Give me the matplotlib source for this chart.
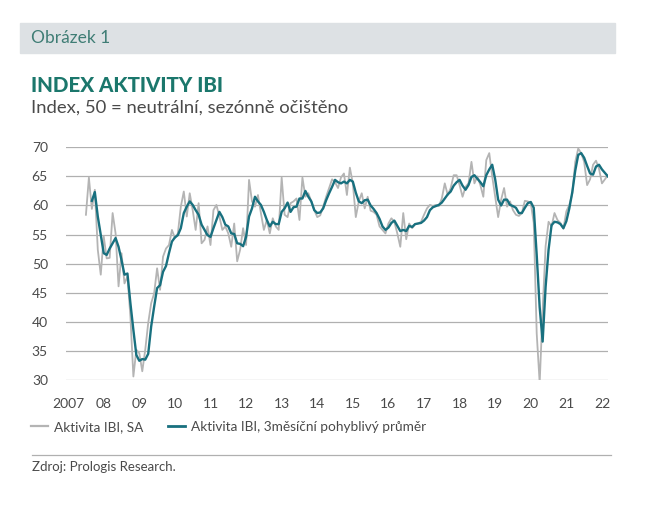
import numpy as np
import pandas as pd
import matplotlib
matplotlib.use('Agg')
import matplotlib.pyplot as plt
from matplotlib.patches import Rectangle
from matplotlib.lines import Line2D

plt.rcParams['font.family'] = ['Lato', 'DejaVu Sans']

# Monthly IBI readings, Jul 2007 - Mar 2022
ibi_sa = [
    58.4, 64.8, 59.4, 62.7, 52.4, 48.1,                                # 2007 H2
    54.7, 50.9, 51.0, 58.7, 55.2, 46.1, 51.8, 46.6, 47.8, 40.9, 30.6, 35.2,  # 2008
    34.6, 31.5, 35.2, 39.8, 43.2, 44.9, 49.2, 45.5, 51.2, 52.6, 53.2, 55.8,  # 2009
    54.4, 55.2, 59.8, 62.4, 58.1, 62.1, 59.2, 55.8, 60.4, 53.5, 54.1, 56.4,  # 2010
    53.2, 59.2, 60.1, 58.1, 55.8, 56.4, 55.2, 52.9, 56.9, 50.4, 52.4, 56.1,  # 2011
    53.2, 64.4, 60.7, 59.8, 61.8, 58.7, 55.8, 57.5, 55.2, 57.8, 56.4, 55.8,  # 2012
    64.8, 58.4, 58.0, 60.4, 60.7, 61.2, 57.5, 64.8, 61.5, 62.1, 60.7, 59.2,  # 2013
    58.0, 58.3, 59.8, 61.5, 63.0, 64.5, 64.0, 63.0, 64.8, 65.5, 61.8, 66.5,  # 2014
    63.8, 58.0, 60.7, 62.1, 59.5, 61.5, 59.1, 58.9, 58.4, 56.4, 55.8, 55.2,  # 2015
    56.9, 57.8, 57.2, 55.2, 52.9, 58.7, 54.2, 56.9, 56.1, 56.8, 56.9, 57.2,  # 2016
    58.4, 59.5, 60.1, 59.9, 60.1, 59.9, 61.2, 63.8, 61.8, 63.0, 65.2, 65.2,  # 2017
    63.5, 61.5, 63.2, 63.8, 67.5, 63.8, 65.0, 63.5, 61.5, 67.8, 69.0, 65.0,  # 2018
    61.5, 58.0, 61.0, 63.0, 59.8, 60.7, 59.2, 58.4, 58.2, 58.7, 60.8, 60.7,  # 2019
    60.4, 57.0, 38.0, 29.5, 42.0, 53.0, 57.2, 56.4, 58.7, 57.5, 57.0, 56.0,  # 2020
    59.0, 60.1, 62.0, 67.5, 69.8, 69.0, 67.5, 63.5, 64.5, 67.0, 67.7, 66.3,  # 2021
    63.8, 64.5, 65.2,                                                    # 2022
]

# 3-month moving average, first value in Sep 2007
ibi_3m = [
    np.nan, np.nan, 60.8, 62.3, 58.1, 55.0,
    51.8, 51.5, 52.6, 53.5, 54.4, 52.9, 50.6, 48.1, 48.3, 43.2, 38.6, 34.3,
    33.3, 33.6, 33.5, 34.5, 39.2, 42.6, 45.8, 46.3, 48.6, 49.6, 51.8, 53.8,
    54.5, 54.9, 56.1, 58.7, 59.8, 60.7, 60.1, 59.2, 58.4, 56.7, 55.8, 54.9,
    54.6, 56.1, 57.5, 58.9, 58.0, 56.7, 56.4, 55.2, 55.1, 53.5, 53.4, 53.0,
    54.6, 58.1, 59.5, 61.5, 60.7, 60.1, 58.9, 57.5, 56.4, 57.2, 56.8, 56.8,
    58.9, 59.5, 60.5, 58.9, 59.7, 59.8, 61.2, 61.2, 62.5, 61.5, 60.7, 59.2,
    58.7, 58.8, 59.5, 60.9, 62.1, 63.2, 64.4, 64.0, 63.8, 64.1, 63.8, 64.4,
    64.1, 62.2, 60.7, 60.4, 60.9, 61.0, 60.0, 59.4, 58.7, 57.7, 56.4, 55.8,
    56.2, 57.0, 57.4, 56.5, 55.6, 55.8, 55.6, 56.5, 56.3, 56.8, 56.9, 57.0,
    57.4, 58.0, 59.2, 59.7, 59.9, 60.1, 60.5, 61.2, 61.9, 62.4, 63.4, 64.0,
    64.4, 63.4, 62.7, 63.5, 64.9, 65.2, 64.6, 64.0, 63.3, 65.2, 66.2, 67.0,
    64.5, 61.0, 60.0, 61.0, 61.0, 60.1, 59.9, 59.6, 58.7, 58.7, 59.6, 60.4,
    60.6, 59.6, 51.5, 42.5, 36.6, 46.0, 52.4, 56.6, 57.2, 57.1, 56.8, 56.1,
    57.3, 59.5, 62.3, 66.0, 68.7, 69.0, 68.2, 66.8, 65.5, 65.3, 66.7, 67.0,
    66.2, 65.6, 65.0,
]

years = list(range(2007, 2023))
year_labels = ['2007'] + ['%02d' % (y % 100) for y in years[1:]]
yticks = [30, 35, 40, 45, 50, 55, 60, 65, 70]

dates = pd.date_range('2007-07-01', periods=len(ibi_sa), freq='MS')
t = dates.year + (dates.month - 1) / 12

gray = '#b4b4b4'
blue = '#18707f'
teal = '#1b776c'
txt = '#4a4a4a'

W, H = 652, 511
fig = plt.figure(figsize=(W / 100, H / 100), dpi=100)

def fx(px):
    return px / W

def fy(py):
    return 1 - py / H

# header band
fig.patches.append(Rectangle((fx(20), fy(53)), fx(595), 30 / H,
                             transform=fig.transFigure, color='#dde1e4', zorder=0))
fig.text(fx(31), fy(38), 'Obrázek 1', fontsize=12.5, color='#3f7d75',
         va='center', ha='left')
fig.text(fx(31), fy(85), 'INDEX AKTIVITY IBI', fontsize=14.8, color=teal,
         fontweight='black', va='center', ha='left')
fig.text(fx(31), fy(108), 'Index, 50 = neutrální, sezónně očištěno', fontsize=13.3,
         color=txt, va='center', ha='left')

ax = fig.add_axes([fx(66), fy(380), fx(608 - 66), (380 - 147.3) / H])
ax.plot(t, ibi_sa, color=gray, lw=1.3, label='Aktivita IBI, SA', zorder=3)
ax.plot(t, ibi_3m, color=blue, lw=1.7, label='Aktivita IBI, 3měsíční pohyblivý průměr', zorder=4)

ax.set_ylim(30, 70)
ax.set_xlim(2006.94, 2022.17)
ax.set_yticks(yticks)
ax.set_xticks(years)
ax.set_xticklabels(year_labels)
ax.grid(axis='y', color='#b0b0b0', lw=0.9)
ax.set_axisbelow(True)
for s in ax.spines.values():
    s.set_visible(False)
ax.tick_params(length=0, labelsize=10, labelcolor=txt)
ax.tick_params(axis='y', pad=13)
ax.tick_params(axis='x', pad=13)

handles = [Line2D([], [], color=gray, lw=1.6), Line2D([], [], color=blue, lw=2)]
fig.legend(handles, ['Aktivita IBI, SA', 'Aktivita IBI, 3měsíční pohyblivý průměr'],
           loc='center left', bbox_to_anchor=(fx(19), fy(427)), ncol=2, frameon=False,
           fontsize=9.8, handlelength=1.2, handletextpad=0.5, columnspacing=1.8,
           labelcolor=txt)

fig.add_artist(Line2D([fx(32), fx(611)], [fy(455), fy(455)], color='#b0b0b0', lw=0.9,
                      transform=fig.transFigure))
fig.text(fx(32), fy(467), 'Zdroj: Prologis Research.', fontsize=9.5, color=txt,
         va='center', ha='left')

fig.savefig('out.png', dpi=100, facecolor='white')
